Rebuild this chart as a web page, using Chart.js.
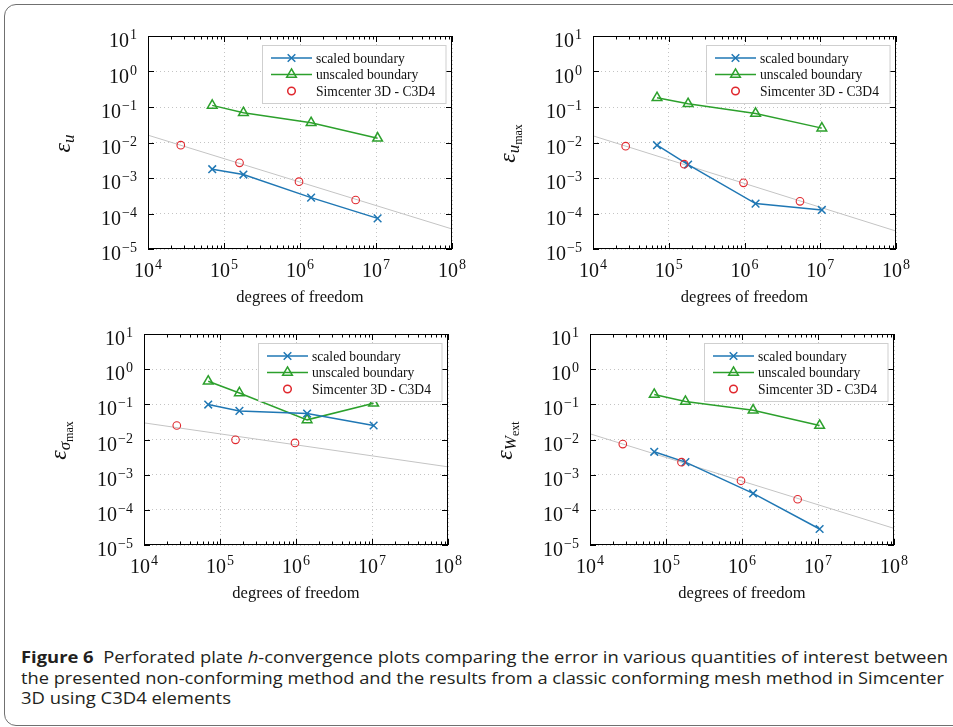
<!DOCTYPE html>
<html>
<head>
<meta charset="utf-8">
<script src="https://cdn.jsdelivr.net/npm/chart.js@4"></script>
<style>
  body { margin: 0; background: #fff; width: 953px; height: 727px; overflow: hidden; position: relative; }
  canvas { position: absolute; }
  #frame { position: absolute; left: 4px; top: 4px; width: 990px; height: 720px; border: 1.5px solid #707070; border-radius: 12px; }
  .cap { position: absolute; left: 21px; white-space: nowrap; font-family: "Open Sans", "Noto Sans", sans-serif; font-size: 16px; line-height: 20px; color: #231f20; transform-origin: 0 0; }
  .cap b { font-weight: 700; }
</style>
</head>
<body>
<div id="frame"></div>
<canvas id="p1"></canvas>
<canvas id="p2"></canvas>
<canvas id="p3"></canvas>
<canvas id="p4"></canvas>
<div class="cap" id="cap1" style="top:647px"><b>Figure 6</b>&nbsp; Perforated plate <i>h</i>-convergence plots comparing the error in various quantities of interest between</div>
<div class="cap" id="cap2" style="top:668px">the presented non-conforming method and the results from a classic conforming mesh method in Simcenter</div>
<div class="cap" id="cap3" style="top:688px">3D using C3D4 elements</div>

<script>
// --- data ---
const dofBoundary = [7.0e4, 1.8e5, 1.4e6, 1.05e7];
const dofSimcenter = [2.7e4, 1.6e5, 9.7e5, 5.4e6];
const dofFit = [1e4, 1e8];

const xTicks = [1e4, 1e5, 1e6, 1e7, 1e8];
const yTicks = [1e-5, 1e-4, 1e-3, 1e-2, 1e-1, 1e0, 1e1];

// eps_u
const uScaled = [1.77e-3, 1.25e-3, 2.8e-4, 7.3e-5];
const uUnscaled = [0.111, 0.0687, 0.0359, 0.0132];
const uSimcenter = [8.4e-3, 2.67e-3, 7.9e-4, 2.4e-4];
const uFit = [1.61e-2, 3.66e-5];

// eps_umax
const umaxScaled = [8.4e-3, 2.39e-3, 1.9e-4, 1.26e-4];
const umaxUnscaled = [0.182, 0.123, 0.0658, 0.0254];
const umaxSimcenter = [7.9e-3, 2.45e-3, 7.3e-4, 2.2e-4];
const umaxFit = [1.54e-2, 3.2e-5];

// eps_sigmamax
const smaxScaled = [0.0986, 0.065, 0.0547, 0.025];
const smaxUnscaled = [0.453, 0.211, 0.0362, 0.1076];
const smaxSimcenter = [0.025, 9.8e-3, 8.0e-3];
const smaxFit = [0.0297, 1.67e-3];

// eps_Wext
const wextScaled = [4.47e-3, 2.27e-3, 2.93e-4, 2.85e-5];
const wextUnscaled = [0.19, 0.12, 0.068, 0.025];
const wextSimcenter = [7.4e-3, 2.27e-3, 6.7e-4, 2.0e-4];
const wextFit = [1.45e-2, 2.97e-5];

const legendLabels = ["scaled boundary", "unscaled boundary", "Simcenter 3D - C3D4"];
const xTitle = "degrees of freedom";

// --- styles ---
const SERIF = '"Liberation Serif", "DejaVu Serif", serif';
const BLUE = "#1f77b4";
const GREEN = "#2ca02c";
const RED = "#e0282e";
const GREY = "#c4c4c4";
const PAD_L = 110, PAD_R = 25, PAD_T = 25, PAD_B = 70;

function pts(xs, ys) {
  return ys.map((y, i) => ({ x: xs[i], y: y }));
}

// superscript tick label 10^e
function drawPow(ctx, x, y, e, mode) {
  const ex = e < 0 ? "\u2212" + Math.abs(e) : String(e);
  ctx.font = "20px " + SERIF;
  const wb = ctx.measureText("10").width;
  ctx.font = "14px " + SERIF;
  const we = ctx.measureText(ex).width;
  let x0 = mode === "x" ? x - (wb + we + 1) / 2 : x - (wb + we + 1);
  ctx.fillStyle = "#111";
  ctx.textAlign = "left";
  ctx.textBaseline = "alphabetic";
  ctx.font = "20px " + SERIF;
  ctx.fillText("10", x0, y);
  ctx.font = "14px " + SERIF;
  ctx.fillText(ex, x0 + wb + 1, y - 8);
}

// rotated y title made of pieces with sub/subscripts
function drawYTitle(ctx, x, y, pieces) {
  ctx.save();
  ctx.translate(x, y);
  ctx.rotate(-Math.PI / 2);
  let total = 0;
  pieces.forEach((p) => { ctx.font = p.font; p.w = ctx.measureText(p.t).width; total += p.w; });
  let cx = -total / 2;
  ctx.fillStyle = "#111";
  ctx.textAlign = "left";
  ctx.textBaseline = "alphabetic";
  pieces.forEach((p) => { ctx.font = p.font; ctx.fillText(p.t, cx, p.dy); cx += p.w; });
  ctx.restore();
}

function drawMarker(ctx, style, x, y) {
  ctx.beginPath();
  if (style === "cross") {
    const r = 3.8;
    ctx.moveTo(x - r, y - r); ctx.lineTo(x + r, y + r);
    ctx.moveTo(x + r, y - r); ctx.lineTo(x - r, y + r);
  } else if (style === "tri") {
    const r = 5.6;
    ctx.moveTo(x, y - r);
    ctx.lineTo(x + r * Math.sin(Math.PI / 3), y + r / 2);
    ctx.lineTo(x - r * Math.sin(Math.PI / 3), y + r / 2);
    ctx.closePath();
  } else {
    ctx.arc(x, y, 3.8, 0, Math.PI * 2);
  }
  ctx.stroke();
}

// frame, ticks, labels and legend in pgfplots style
const axisDecor = {
  id: "axisDecor",
  afterDraw(chart) {
    const ctx = chart.ctx;
    const a = chart.chartArea;
    const xs = chart.scales.x, ys = chart.scales.y;
    const title = chart.options.plugins.axisDecor.title;
    ctx.save();
    ctx.strokeStyle = "#000";
    ctx.lineWidth = 1;

    // minor + major ticks on x (top and bottom, inward)
    ctx.beginPath();
    for (let d = 1e4; d < 1e8; d *= 10) {
      for (let k = 2; k <= 9; k++) {
        const px = Math.round(xs.getPixelForValue(d * k)) + 0.5;
        ctx.moveTo(px, a.bottom); ctx.lineTo(px, a.bottom - 3.5);
        ctx.moveTo(px, a.top); ctx.lineTo(px, a.top + 3.5);
      }
    }
    xTicks.forEach((v) => {
      const px = Math.round(xs.getPixelForValue(v)) + 0.5;
      ctx.moveTo(px, a.bottom); ctx.lineTo(px, a.bottom - 6);
      ctx.moveTo(px, a.top); ctx.lineTo(px, a.top + 6);
    });
    yTicks.forEach((v) => {
      const py = Math.round(ys.getPixelForValue(v)) + 0.5;
      ctx.moveTo(a.left, py); ctx.lineTo(a.left + 6, py);
      ctx.moveTo(a.right, py); ctx.lineTo(a.right - 6, py);
    });
    ctx.stroke();
    ctx.strokeRect(a.left + 0.5, a.top + 0.5, a.right - a.left - 1, a.bottom - a.top - 1);

    // tick labels
    xTicks.forEach((v) => drawPow(ctx, xs.getPixelForValue(v), a.bottom + 28, Math.round(Math.log10(v)), "x"));
    yTicks.forEach((v) => drawPow(ctx, a.left - 11, ys.getPixelForValue(v) + 11, Math.round(Math.log10(v)), "y"));

    // axis titles
    ctx.font = "16.5px " + SERIF;
    ctx.textAlign = "center";
    ctx.fillStyle = "#111";
    ctx.fillText(xTitle, (a.left + a.right) / 2, a.bottom + 53);
    drawYTitle(ctx, a.left - 78, (a.top + a.bottom) / 2 + 1, title);

    // legend box
    const bl = a.right - 190, bt = a.top + 9, bw = 183.5, bh = 58;
    ctx.fillStyle = "#fff";
    ctx.fillRect(bl, bt, bw, bh);
    ctx.strokeStyle = "#cfcfcf";
    ctx.strokeRect(bl + 0.5, bt + 0.5, bw, bh);
    const rows = [
      { c: BLUE, m: "cross", line: true },
      { c: GREEN, m: "tri", line: true },
      { c: RED, m: "circle", line: false },
    ];
    rows.forEach((r, i) => {
      const y = a.top + [22, 38.5, 55][i];
      ctx.strokeStyle = r.c;
      ctx.lineWidth = 1.5;
      if (r.line) {
        ctx.beginPath();
        ctx.moveTo(bl + 9, y); ctx.lineTo(bl + 50, y);
        ctx.stroke();
      }
      drawMarker(ctx, r.m, bl + 29.5, y);
      ctx.fillStyle = "#111";
      ctx.font = "13.6px " + SERIF;
      ctx.textAlign = "left";
      ctx.textBaseline = "middle";
      ctx.fillText(legendLabels[i], bl + 54, y + 1);
      ctx.textBaseline = "alphabetic";
    });
    ctx.restore();
  },
};

function makePanel(id, box, scaled, unscaled, sim, fit, title) {
  const canvas = document.getElementById(id);
  const W = box.r - box.l + PAD_L + PAD_R;
  const H = box.b - box.t + PAD_T + PAD_B;
  canvas.width = W;
  canvas.height = H;
  canvas.style.left = box.l - PAD_L + "px";
  canvas.style.top = box.t - PAD_T + "px";
  canvas.style.width = W + "px";
  canvas.style.height = H + "px";

  new Chart(canvas.getContext("2d"), {
    type: "line",
    data: {
      datasets: [
        {
          label: legendLabels[2],
          data: pts(dofSimcenter, sim),
          showLine: false,
          borderColor: RED,
          backgroundColor: "transparent",
          pointStyle: "circle",
          pointRadius: 3.8,
          pointBorderWidth: 1.1,
        },
        {
          label: legendLabels[0],
          data: pts(dofBoundary, scaled),
          borderColor: BLUE,
          borderWidth: 1.5,
          backgroundColor: "transparent",
          pointStyle: "crossRot",
          pointRadius: 5.4,
          pointBorderWidth: 1.5,
        },
        {
          label: legendLabels[1],
          data: pts(dofBoundary, unscaled),
          borderColor: GREEN,
          borderWidth: 1.5,
          backgroundColor: "transparent",
          pointStyle: "triangle",
          pointRadius: 5.6,
          pointBorderWidth: 1.5,
        },
        {
          label: "fit",
          data: pts(dofFit, fit),
          borderColor: GREY,
          borderWidth: 1,
          pointRadius: 0,
        },
      ],
    },
    options: {
      responsive: false,
      animation: false,
      devicePixelRatio: 1,
      layout: { padding: { left: 0, top: PAD_T, right: PAD_R, bottom: 0 } },
      elements: { line: { tension: 0 } },
      scales: {
        x: {
          type: "logarithmic",
          min: 1e4,
          max: 1e8,
          afterBuildTicks: (s) => { s.ticks = xTicks.map((v) => ({ value: v })); },
          afterFit: (s) => { s.height = PAD_B; },
          ticks: { display: false },
          grid: { color: GREY, lineWidth: 1, drawTicks: false },
          border: { display: false, dash: [1, 3] },
        },
        y: {
          type: "logarithmic",
          min: 1e-5,
          max: 1e1,
          afterBuildTicks: (s) => { s.ticks = yTicks.map((v) => ({ value: v })); },
          afterFit: (s) => { s.width = PAD_L; },
          ticks: { display: false },
          grid: { color: GREY, lineWidth: 1, drawTicks: false },
          border: { display: false, dash: [1, 3] },
        },
      },
      plugins: {
        legend: { display: false },
        tooltip: { enabled: false },
        axisDecor: { title: title },
      },
    },
    plugins: [axisDecor],
  });
}

const IT = (s) => "italic " + s + "px " + SERIF;
const UP = (s) => s + "px " + SERIF;

function initialize() {
  makePanel("p1", { l: 148, t: 36, r: 452, b: 249 }, uScaled, uUnscaled, uSimcenter, uFit, [
    { t: "\u03b5", font: IT(24), dy: 0 },
    { t: "u", font: IT(17), dy: 4 },
  ]);
  makePanel("p2", { l: 593, t: 36, r: 896, b: 249 }, umaxScaled, umaxUnscaled, umaxSimcenter, umaxFit, [
    { t: "\u03b5", font: IT(24), dy: 0 },
    { t: "u", font: IT(17), dy: 4 },
    { t: "max", font: UP(12), dy: 7 },
  ]);
  makePanel("p3", { l: 144, t: 334, r: 448, b: 545 }, smaxScaled, smaxUnscaled, smaxSimcenter, smaxFit, [
    { t: "\u03b5", font: IT(24), dy: 0 },
    { t: "\u03c3", font: IT(17), dy: 4 },
    { t: "max", font: UP(12), dy: 7 },
  ]);
  makePanel("p4", { l: 590, t: 334, r: 894, b: 545 }, wextScaled, wextUnscaled, wextSimcenter, wextFit, [
    { t: "\u03b5", font: IT(24), dy: 0 },
    { t: "W", font: IT(17), dy: 4 },
    { t: "ext", font: UP(12), dy: 7 },
  ]);

  // stretch caption lines to the printed widths
  const widths = { cap1: 927, cap2: 923, cap3: 210 };
  Object.keys(widths).forEach((id) => {
    const el = document.getElementById(id);
    const w = el.getBoundingClientRect().width;
    el.style.transform = "scaleX(" + widths[id] / w + ")";
  });
}

document.addEventListener("DOMContentLoaded", initialize);
</script>
</body>
</html>
